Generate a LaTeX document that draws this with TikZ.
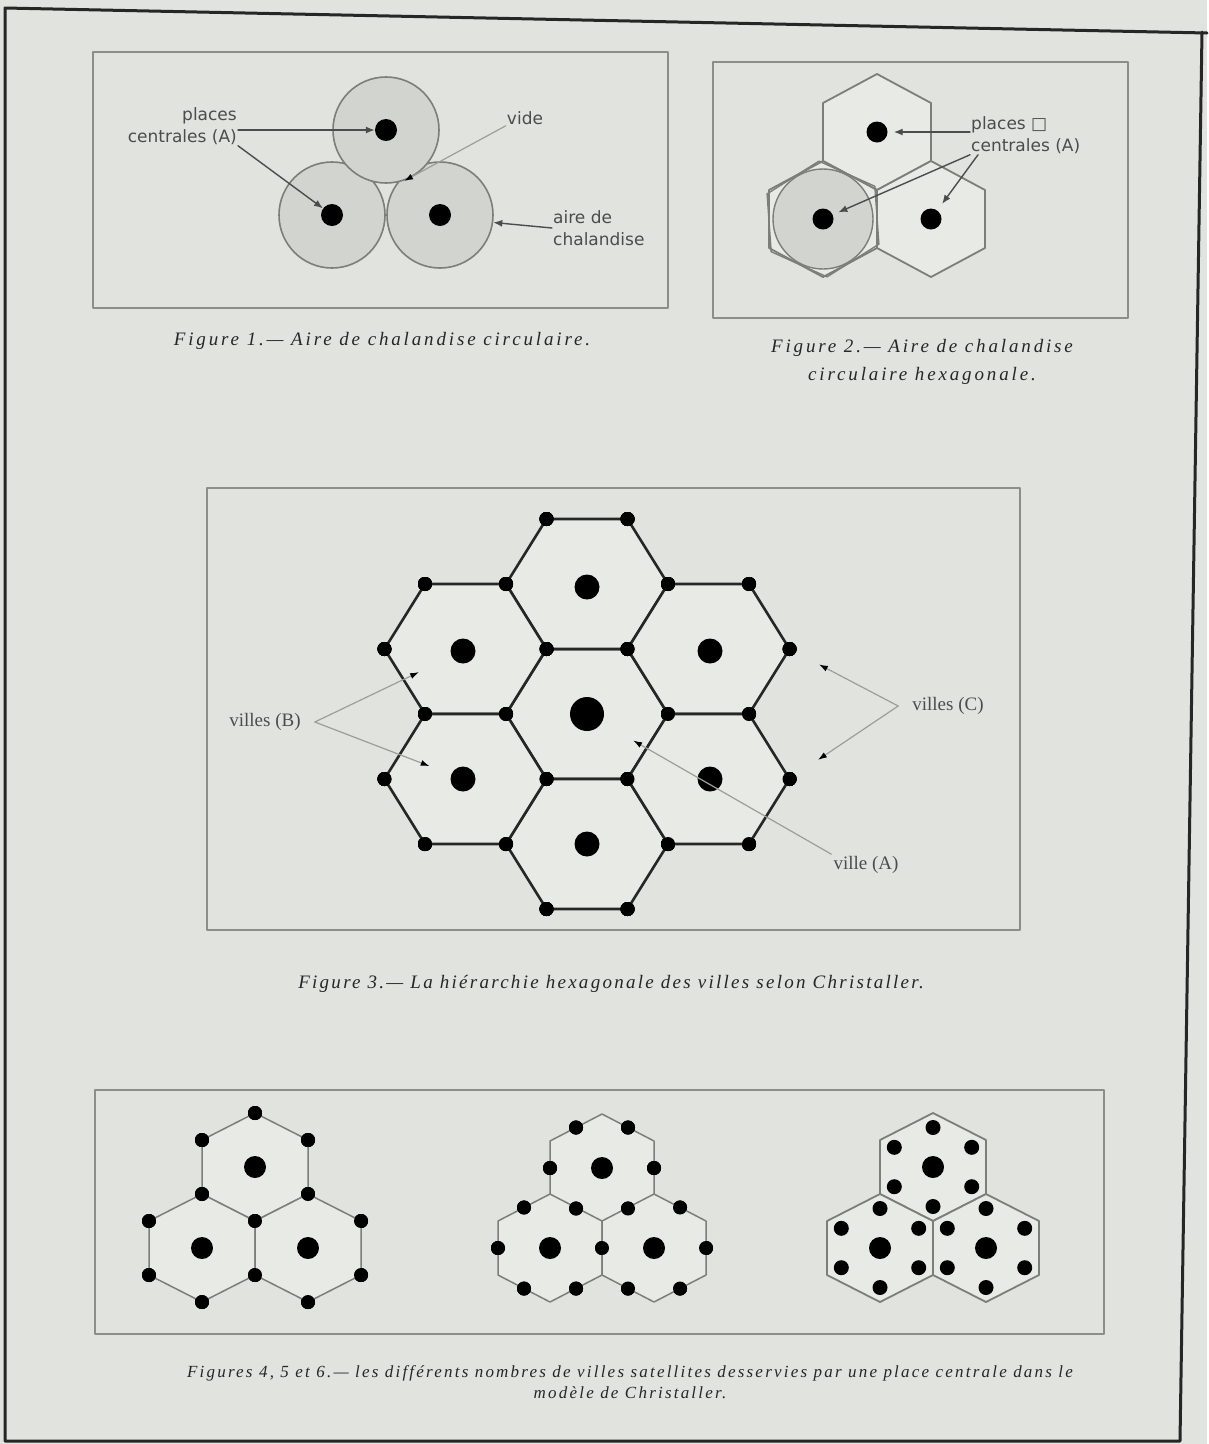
\documentclass[tikz,border=0pt]{standalone}
\usepackage{fontspec}
\setmainfont{Liberation Serif}
\newfontfamily\labelfont{DejaVu Sans}
\newfontfamily\capfont{Liberation Serif}
\usetikzlibrary{arrows.meta,calc,positioning}
\definecolor{pagePaper}{HTML}{E1E3DF}
\definecolor{hexPaper}{HTML}{E8EAE6}
\definecolor{pageInk}{HTML}{262626}
\definecolor{boxLine}{HTML}{8C8E8A}
\definecolor{cellFill}{HTML}{D2D4D0}
\definecolor{hexLine}{HTML}{7C7E7A}
\definecolor{leaderGray}{HTML}{9C9E9A}
\definecolor{labelInk}{HTML}{4C4C4C}
% pointy hexagon: centre x, centre y, half width, radius
\newcommand{\hexUp}[5][]{\draw[#1] ({#2},{#3-#5}) -- ({#2+#4},{#3-#5/2}) -- ({#2+#4},{#3+#5/2}) -- ({#2},{#3+#5}) -- ({#2-#4},{#3+#5/2}) -- ({#2-#4},{#3-#5/2}) -- cycle;}
% flat hexagon: centre x, centre y, radius, half height
\newcommand{\hexFlat}[5][]{\draw[#1] ({#2-#4},{#3}) -- ({#2-#4/2},{#3-#5}) -- ({#2+#4/2},{#3-#5}) -- ({#2+#4},{#3}) -- ({#2+#4/2},{#3+#5}) -- ({#2-#4/2},{#3+#5}) -- cycle;}

\begin{document}
\begin{tikzpicture}[x=1pt,y=-1pt,>=Latex,line cap=round,line join=round]
\path[fill=pagePaper] (0,0) rectangle (1207,1444);
\draw[pageInk,line width=3pt] (1207,33) -- (5,8) -- (5,1441) -- (1180,1441) -- (1202,32);
\tikzset{boxframe/.style={draw=boxLine,line width=2pt},ring/.style={circle,draw=hexLine,fill=cellFill,line width=1.6pt,minimum size=106pt,inner sep=0pt},cityDot/.style={circle,fill=black,inner sep=0pt,minimum size=#1},lbl/.style={font=\labelfont\fontsize{17}{22}\selectfont,text=labelInk,inner sep=1pt},cityLbl/.style={font=\fontsize{19}{22}\selectfont,text=labelInk,inner sep=2pt},capLbl/.style n args={3}{font=\capfont\addfontfeatures{LetterSpace=#2}\itshape\fontsize{#1}{#3}\selectfont,text=pageInk,align=center},ptr/.style={draw=labelInk,line width=1.4pt,-{Latex[length=9pt,width=7pt]}},leader/.style={draw=leaderGray,line width=1.2pt,-{Latex[length=9pt,width=6pt,color=black]}},hexThin/.style={draw=hexLine,fill=hexPaper,line width=1.8pt},hexBold/.style={draw=black!85,fill=hexPaper,line width=2.6pt}}
\path[boxframe] (93,52) rectangle (668,308);
\path[boxframe] (713,62) rectangle (1128,318);
\path[boxframe] (207,488) rectangle (1020,930);
\path[boxframe] (95,1090) rectangle (1104,1334);

% figure 1
\node[ring] (ringL) at (332,215) {};
\node[ring] (ringR) at (440,215) {};
\node[ring] (ringT) at (386,130) {};
\node[cityDot=22pt] (aT) at (386,130) {};
\node[cityDot=22pt] (aL) at (332,215) {};
\node[cityDot=22pt] (aR) at (440,215) {};
\node[lbl,align=right,anchor=east] (placesA) at (238,126) {places\\centrales (A)};
\draw[ptr] (placesA.east |- aT.west) -- (aT.west);
\draw[ptr] (placesA.south east) -- (aL);
\node[lbl] (vide) at (525,118) {vide};
\coordinate (gap) at (404,181);
\draw[leader] (vide.south west) -- (gap);
\node[lbl,align=left,anchor=west] (aire) at (552,228) {aire de\\chalandise};
\draw[ptr] (aire.west) -- (ringR.-8);
\node[capLbl={19}{15}{28}] (cap1) at (382,341) {Figure 1.— Aire de chalandise circulaire.};

% figure 2
\hexUp[hexThin]{877}{132}{54}{58}
\hexUp[hexThin]{931}{219}{54}{58}
\hexUp[hexThin]{823}{219}{54}{58}
\hexUp[draw=hexLine,line width=1.4pt,rotate around={4:(823,219)}]{823}{219}{54}{58}
\node[circle,draw=hexLine,fill=cellFill,line width=1.4pt,minimum size=100pt,inner sep=0pt] (ringB) at (823,219) {};
\node[cityDot=21pt] (bT) at (877,132) {};
\node[cityDot=21pt] (bL) at (823,219) {};
\node[cityDot=21pt] (bR) at (931,219) {};
\node[lbl,align=left,anchor=west] (placesB) at (970,135) {places {\labelfont □}\\centrales (A)};
\draw[ptr] (placesB.west |- bT.east) -- ([xshift=6pt]bT.east);
\draw[ptr,shorten >=6pt] (placesB.south west) -- (bL);
\draw[ptr,shorten >=8pt] ([xshift=8pt]placesB.south west) -- (bR);
\node[capLbl={19}{15}{28}] (cap2) at (922,362) {Figure 2.— Aire de chalandise\\circulaire hexagonale.};

% figure 3
\foreach \cx/\cy in {587/714,587/584,587/844,465.5/649,708.5/649,465.5/779,708.5/779}
  \hexFlat[hexBold]{\cx}{\cy}{81}{65}
\foreach \vx/\vy [count=\i] in {546.5/519,627.5/519,
    425/584,506/584,668/584,749/584,
    384.5/649,546.5/649,627.5/649,789.5/649,
    425/714,506/714,668/714,749/714,
    384.5/779,546.5/779,627.5/779,789.5/779,
    425/844,506/844,668/844,749/844,
    546.5/909,627.5/909}
  \node[cityDot=14pt] (v\i) at (\vx,\vy) {};
\node[cityDot=34pt] (cA) at (587,714) {};
\node[cityDot=25pt] (cN) at (587,587) {};
\node[cityDot=25pt] (cS) at (587,844) {};
\node[cityDot=25pt] (cNW) at (463,651) {};
\node[cityDot=25pt] (cNE) at (710,651) {};
\node[cityDot=25pt] (cSW) at (463,779) {};
\node[cityDot=25pt] (cSE) at (710,779) {};
\node[cityLbl] (villesB) at (265,722) {villes (B)};
\node[cityLbl] (villesC) at (948,706) {villes (C)};
\node[cityLbl] (villeA) at (866,865) {ville (A)};
\draw[leader,shorten >=36pt] ([xshift=12pt]villesB.east) -- (cNW);
\draw[leader,shorten >=23pt] ([xshift=12pt]villesB.east) -- (cSW);
\draw[leader,shorten >=26pt] ([xshift=-12pt]villesC.west) -- (v10);
\draw[leader,shorten >=27pt] ([xshift=-12pt]villesC.west) -- (v18);
\draw[leader,shorten >=36pt] (villeA.north west) -- (cA);
\node[capLbl={19}{12}{28}] (cap3) at (611,984) {Figure 3.— La hiérarchie hexagonale des villes selon Christaller.};

% figures 4, 5 and 6
\foreach \cx/\cy in {255/1167,202/1248,308/1248}
  \hexUp[hexThin,line width=1.5pt]{\cx}{\cy}{53}{54}
\foreach \vx/\vy [count=\i] in {255/1113,308/1140,308/1194,255/1221,202/1194,202/1140,
    255/1275,202/1302,149/1275,149/1221,361/1221,361/1275,308/1302}
  \node[cityDot=14pt] (k\i) at (\vx,\vy) {};
\node[cityDot=22pt] (kT) at (255,1167) {};
\node[cityDot=22pt] (kL) at (202,1248) {};
\node[cityDot=22pt] (kR) at (308,1248) {};

\foreach \cx/\cy in {602/1168,550/1248,654/1248}
  \hexUp[hexThin,line width=1.5pt]{\cx}{\cy}{52}{54}
\foreach \vx/\vy [count=\i] in {628/1127.5,654/1168,628/1208.5,576/1208.5,550/1168,576/1127.5,
    602/1248,576/1288.5,524/1288.5,498/1248,524/1207.5,
    680/1207.5,706/1248,680/1288.5,628/1288.5}
  \node[cityDot=14pt] (m\i) at (\vx,\vy) {};
\node[cityDot=22pt] (mT) at (602,1168) {};
\node[cityDot=22pt] (mL) at (550,1248) {};
\node[cityDot=22pt] (mR) at (654,1248) {};

\foreach \cx/\cy [count=\h] in {933/1167,880/1248,986/1248}{
  \hexUp[hexThin,line width=1.8pt]{\cx}{\cy}{53}{54}
  \node[cityDot=22pt] (s\h) at (\cx,\cy) {};
  \foreach \dx/\dy [count=\i] in {0/-39.5,38.7/-19.7,38.7/19.7,0/39.5,-38.7/19.7,-38.7/-19.7}
    \node[cityDot=15pt] (s\h-\i) at (\cx+\dx,\cy+\dy) {};
}
\node[capLbl={17}{13}{21}] (cap456) at (630,1382) {Figures 4, 5 et 6.— les différents nombres de villes satellites desservies par une place centrale dans le\\modèle de Christaller.};
\end{tikzpicture}
\end{document}
